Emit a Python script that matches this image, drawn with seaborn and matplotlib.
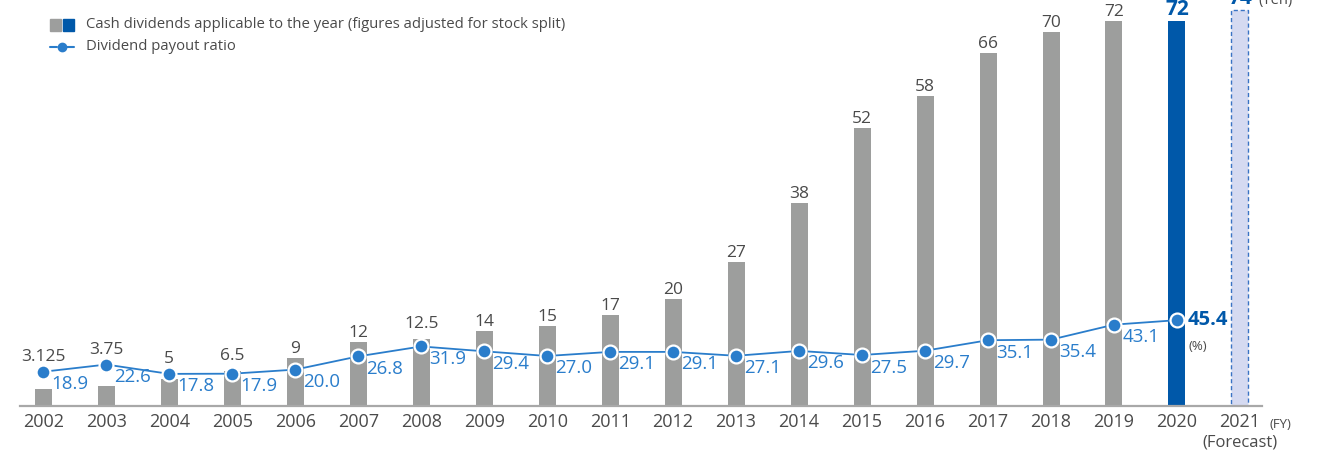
import numpy as np
import pandas as pd
import matplotlib.pyplot as plt
import seaborn as sns
from matplotlib.patches import Rectangle
from matplotlib.lines import Line2D

years = ['2002', '2003', '2004', '2005', '2006', '2007', '2008', '2009', '2010', '2011',
         '2012', '2013', '2014', '2015', '2016', '2017', '2018', '2019', '2020', '2021']
dividends = [3.125, 3.75, 5, 6.5, 9, 12, 12.5, 14, 15, 17,
             20, 27, 38, 52, 58, 66, 70, 72, 72, 74]
div_labels = ['3.125', '3.75', '5', '6.5', '9', '12', '12.5', '14', '15', '17',
              '20', '27', '38', '52', '58', '66', '70', '72', '72', '74']
payout = [18.9, 22.6, 17.8, 17.9, 20.0, 26.8, 31.9, 29.4, 27.0, 29.1,
          29.1, 27.1, 29.6, 27.5, 29.7, 35.1, 35.4, 43.1, 45.4]

GRAY = '#9d9e9d'
BLUE = '#0058a9'
LIGHT = '#d5daf1'
LINE = '#2a7dcb'
TXT = '#4a4a4a'

sns.set_style('white')
plt.rcParams['font.family'] = ['Open Sans', 'DejaVu Sans']

df = pd.DataFrame({'year': years, 'div': dividends})
colors = [GRAY] * (len(years) - 2) + [BLUE, LIGHT]

fig = plt.figure(figsize=(13.2, 4.51), dpi=100)
ax = fig.add_axes([20 / 1320, 45 / 451, 1242 / 1320, 406 / 451])
sns.barplot(data=df, x='year', y='div', hue='year', palette=colors, legend=False,
            width=0.27, ax=ax, saturation=1)
for p in ax.patches:
    p.set_edgecolor('none')
fc = ax.patches[-1]
fc.set_facecolor(LIGHT)
fc.set_edgecolor('#3a73c4')
fc.set_linestyle((0, (3, 2)))
fc.set_linewidth(1.0)

ax.set_xlim(-0.37, len(years) - 1 + 0.35)
ax.set_ylim(0, 75.9)
ax.set_xlabel('')
ax.set_ylabel('')
ax.set_yticks([])
for s in ['top', 'right', 'left']:
    ax.spines[s].set_visible(False)
ax.spines['bottom'].set_color('#a8a8a8')
ax.spines['bottom'].set_linewidth(1.6)
ax.tick_params(axis='x', length=0, pad=5, labelsize=13, labelcolor=TXT)

# payout ratio line
ax2 = ax.twinx()
ax2.set_ylim(1.3, 209.9)
ax2.axis('off')
xs = np.arange(len(payout))
sns.lineplot(x=xs, y=payout, color=LINE, lw=1.3, marker='o', markersize=10,
             markerfacecolor=LINE, markeredgecolor='white', markeredgewidth=1.6, ax=ax2)
ax2.set_ylim(1.3, 209.9)
for i, v in enumerate(payout):
    if i == len(payout) - 1:
        ax2.annotate(f'{v:.1f}', (i, v), xytext=(8, 0), textcoords='offset points',
                     ha='left', va='center', fontsize=14.5, fontweight='bold', color=BLUE)
        ax2.annotate('(%)', (i, v), xytext=(8, -19), textcoords='offset points',
                     ha='left', va='center', fontsize=9.5, color=TXT)
    else:
        ax2.annotate(f'{v:.1f}', (i, v), xytext=(6, -9), textcoords='offset points',
                     ha='left', va='center', fontsize=13.5, color=LINE)

# bar value labels (lifted above the line point where the point sits on the bar)
for i, (v, lab) in enumerate(zip(dividends, div_labels)):
    if i == len(years) - 2:
        ax.annotate(lab, (i, v), xytext=(0, 4), textcoords='offset points',
                    ha='center', va='baseline', fontsize=15, fontweight='bold', color=BLUE)
    elif i == len(years) - 1:
        ax.annotate(lab, (i, v), xytext=(0, 4.5), textcoords='offset points',
                    ha='center', va='baseline', fontsize=15, fontweight='bold', color=BLUE,
                    annotation_clip=False)
        ax.annotate('(Yen)', (i, v), xytext=(13, 4.5), textcoords='offset points',
                    ha='left', va='baseline', fontsize=10.5, color=TXT, annotation_clip=False)
    else:
        bar_top = ax.transData.transform((i, v))[1]
        pt = ax2.transData.transform((i, payout[i]))[1]
        if pt > bar_top - 8:
            y_disp = max(bar_top, pt) + 11
        else:
            y_disp = bar_top + 5
        xy = ax.transData.inverted().transform((ax.transData.transform((i, v))[0], y_disp))
        ax.text(xy[0], xy[1], lab, ha='center', va='baseline', fontsize=12.5, color=TXT)

ax.annotate('(FY)', (len(years) - 1, 0), xytext=(21, -13), textcoords='offset points',
            ha='left', va='center', fontsize=9.5, color=TXT, annotation_clip=False)
ax.annotate('(Forecast)', (len(years) - 1, 0), xytext=(0, -26), textcoords='offset points',
            ha='center', va='center', fontsize=12, color=TXT, annotation_clip=False)

# legend
W, H = 1320, 451
fig.patches.append(Rectangle((50 / W, 1 - 31 / H), 11 / W, 12 / H, color=GRAY,
                             transform=fig.transFigure, figure=fig))
fig.patches.append(Rectangle((63 / W, 1 - 31 / H), 11 / W, 12 / H, color=BLUE,
                             transform=fig.transFigure, figure=fig))
fig.text(86 / W, 1 - 25 / H, 'Cash dividends applicable to the year (figures adjusted for stock split)',
         ha='left', va='center', fontsize=10.7, color=TXT)
fig.lines.append(Line2D([50 / W, 57 / W], [1 - 47 / H] * 2, color=LINE, lw=1.5,
                        transform=fig.transFigure))
fig.lines.append(Line2D([67 / W, 74 / W], [1 - 47 / H] * 2, color=LINE, lw=1.5,
                        transform=fig.transFigure))
fig.lines.append(Line2D([62 / W], [1 - 47 / H], color=LINE, marker='o', markersize=6,
                        transform=fig.transFigure))
fig.text(86 / W, 1 - 47 / H, 'Dividend payout ratio',
         ha='left', va='center', fontsize=10.7, color=TXT)

fig.savefig('out.png', dpi=100)
